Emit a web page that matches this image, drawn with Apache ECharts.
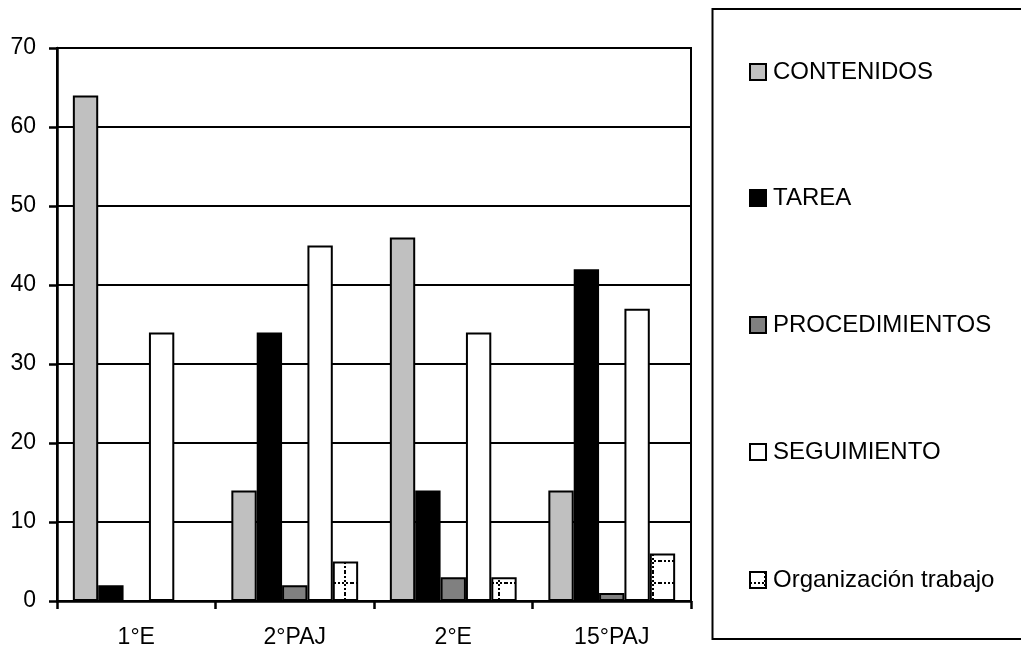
<!DOCTYPE html>
<html>
<head>
<meta charset="utf-8">
<script src="https://cdn.jsdelivr.net/npm/echarts@6/dist/echarts.min.js"></script>
<style>
html,body{margin:0;padding:0;background:#fff;}
#chart{width:1021px;height:650px;}
</style>
</head>
<body>
<div id="chart"></div>
<script>
const categories = ['1°E', '2°PAJ', '2°E', '15°PAJ'];
const seriesNames = ['CONTENIDOS', 'TAREA', 'PROCEDIMIENTOS', 'SEGUIMIENTO', 'Organización trabajo'];
const contenidos = [64, 14, 46, 14];
const tarea = [2, 34, 14, 42];
const procedimientos = [0, 2, 3, 1];
const seguimiento = [34, 45, 34, 37];
const organizacion = [0, 5, 3, 6];
const yTicks = [0, 10, 20, 30, 40, 50, 60, 70];

function makePattern() {
  const c = document.createElement('canvas');
  c.width = 22; c.height = 22;
  const ctx = c.getContext('2d');
  ctx.fillStyle = '#fff';
  ctx.fillRect(0, 0, 22, 22);
  ctx.fillStyle = '#000';
  for (let x = 0; x < 22; x += 4) ctx.fillRect(x, 10, 2, 2);
  for (let y = 0; y < 22; y += 4) ctx.fillRect(14, y, 2, 2);
  return c;
}

const FONT = "'Liberation Sans', Arial, sans-serif";
const colors = ['#c0c0c0', '#000000', '#808080', '#ffffff', { image: makePattern(), repeat: 'repeat' }];
const values = [contenidos, tarea, procedimientos, seguimiento, organizacion];

const chart = echarts.init(document.getElementById('chart'), null, { renderer: 'canvas' });

const legendCenters = [72, 198, 325, 452, 580];
const legends = seriesNames.map((n, i) => ({
  data: [n],
  left: 749,
  top: legendCenters[i] - 12,
  padding: 0,
  itemWidth: 16,
  itemHeight: 16,
  icon: 'rect',
  selectedMode: false,
  itemStyle: { borderColor: '#000', borderWidth: 2 },
  textStyle: { fontFamily: FONT, fontSize: 24, color: '#000', padding: [0, 0, 0, 2] }
}));

chart.setOption({
  animation: false,
  backgroundColor: '#fff',
  graphic: [{
    type: 'rect',
    shape: { x: 712.5, y: 9, width: 330, height: 630 },
    style: { fill: 'none', stroke: '#000', lineWidth: 2 },
    silent: true
  }],
  legend: legends,
  grid: {
    left: 57, right: 330, top: 48, bottom: 49,
    show: true, borderColor: '#000', borderWidth: 2
  },
  xAxis: {
    type: 'category',
    data: categories,
    axisLine: { show: true, lineStyle: { color: '#000', width: 2.5 } },
    axisTick: { show: true, length: 8, alignWithLabel: false, lineStyle: { color: '#000', width: 2.5 } },
    axisLabel: { color: '#000', fontFamily: FONT, fontSize: 23, margin: 25 }
  },
  yAxis: {
    type: 'value',
    min: yTicks[0],
    max: yTicks[yTicks.length - 1],
    interval: yTicks[1] - yTicks[0],
    axisLine: { show: true, lineStyle: { color: '#000', width: 2.5 } },
    axisTick: { show: true, length: 8, lineStyle: { color: '#000', width: 2.5 } },
    axisLabel: { color: '#000', fontFamily: FONT, fontSize: 23, margin: 21 },
    splitLine: { show: true, lineStyle: { color: '#000', width: 2 } }
  },
  series: seriesNames.map((n, i) => ({
    name: n,
    type: 'bar',
    data: values[i],
    barGap: '0%',
    barCategoryGap: '20%',
    itemStyle: { color: colors[i], borderColor: '#000', borderWidth: 2 }
  }))
});
</script>
</body>
</html>
